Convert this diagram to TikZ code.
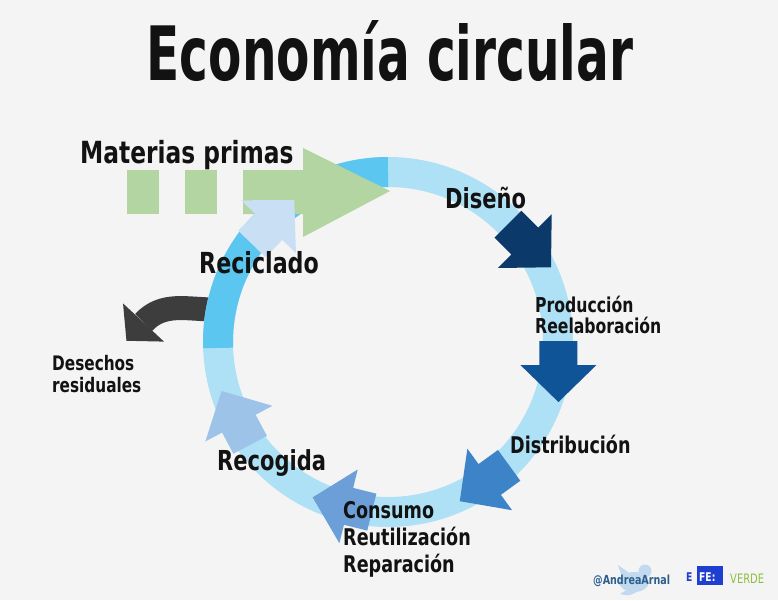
\documentclass[tikz,border=0pt]{standalone}
\usepackage{fontspec}
\newfontfamily\titlefont{DejaVu Sans Condensed}[FakeStretch=0.72]
\newfontfamily\labelfont{DejaVu Sans Condensed}[FakeStretch=0.85]
\definecolor{paper}{HTML}{F5F4F4}
\definecolor{ringlight}{HTML}{AEE1F6}
\definecolor{ringdark}{HTML}{5BC6F0}
\definecolor{rawgreen}{HTML}{B2D5A2}
\definecolor{disenoblue}{HTML}{0B3A6A}
\definecolor{produblue}{HTML}{0F5496}
\definecolor{distriblue}{HTML}{3D83C8}
\definecolor{consublue}{HTML}{6C9FD8}
\definecolor{recogblue}{HTML}{9EC3E8}
\definecolor{reciclblue}{HTML}{C9DFF3}
\definecolor{wastegray}{HTML}{3D3D3D}
\definecolor{efeblue}{HTML}{1E3FCF}
\definecolor{verdegreen}{HTML}{8CBF3F}
\definecolor{andreablue}{HTML}{2D5E8C}
\definecolor{birdblue}{HTML}{C2DAEF}

\begin{document}
\begin{tikzpicture}[x=1pt,y=1pt]
\tikzstyle{every node}+=[inner sep=0pt]
\tikzstyle{stagelabel}=[anchor=base west, text=black!93, font=\labelfont\bfseries]
\useasboundingbox (0,0) rectangle (778,-600);
\fill [paper] (0,0) rectangle (778,-600);
\draw [wastegray, line width=24] (215,-309.5) to[out=180,in=47] (143.5,-322.5);
\fill [wastegray, shift={(143.5,-322.5)}, rotate=-133] (0,-28) -- (25,0) -- (0,28) -- cycle;
\draw [ringlight, line width=30] (388,-342) circle (170);
\draw [ringdark, line width=30] ([shift={(90:170)}]388,-342) arc [start angle=90, end angle=182, radius=170];
\fill [rawgreen] (127,-170) rectangle (159,-214);
\fill [rawgreen] (185,-170) rectangle (217,-214);
\fill [rawgreen] (243,-170) -- (303,-170) -- (303,-148) -- (390,-191) -- (303,-237) -- (303,-214) -- (243,-214) -- cycle;
\foreach \ang/\rad/\dir/\col in {36.4/170/-45/disenoblue, 352.3/172/-90/produblue, 306.5/171/-144/distriblue, 256.5/169/166/consublue, 208.7/170/118/recogblue, 136/166/46/reciclblue}
{
\fill [\col, shift={(388,-342)}, shift={(\ang:\rad)}, rotate=\dir] (-24,-19) -- (0,-19) -- (0,-38) -- (37,0) -- (0,38) -- (0,19) -- (-24,19) -- cycle;
}
\node [anchor=base, text=black!93, font=\titlefont\bfseries\fontsize{75}{80}\selectfont] (title) at (390,-80) {Economía circular};
\node [stagelabel, font=\labelfont\bfseries\fontsize{30.5}{32}\selectfont] (materias) at (80,-163) {Materias primas};
\node [stagelabel, font=\labelfont\bfseries\fontsize{27.5}{30}\selectfont] (diseno) at (445,-208) {Diseño};
\node [stagelabel, align=left, font=\labelfont\bfseries\fontsize{20.5}{21}\selectfont] (produccion) at (535,-333) {Producción\\Reelaboración};
\node [stagelabel, font=\labelfont\bfseries\fontsize{23}{26}\selectfont] (distribucion) at (510,-453) {Distribución};
\node [stagelabel, align=left, font=\labelfont\bfseries\fontsize{23}{27}\selectfont] (consumo) at (343,-572) {Consumo\\Reutilización\\Reparación};
\node [stagelabel, font=\labelfont\bfseries\fontsize{27.5}{30}\selectfont] (recogida) at (217,-470) {Recogida};
\node [stagelabel, font=\labelfont\bfseries\fontsize{29}{32}\selectfont] (reciclado) at (199,-273) {Reciclado};
\node [stagelabel, align=left, font=\labelfont\bfseries\fontsize{20}{22}\selectfont] (desechos) at (52,-392) {Desechos\\residuales};
\fill [birdblue] (634,-582) ellipse [x radius=15, y radius=10];
\fill [birdblue] (645,-571) circle (6.5);
\fill [birdblue] (618,-565) .. controls (622,-578) .. (634,-580) -- (628,-572) -- cycle;
\fill [birdblue] (620,-594) .. controls (630,-596) .. (640,-590) -- (630,-588) -- cycle;
\node [anchor=base west, text=andreablue, font=\labelfont\bfseries\fontsize{12.5}{14}\selectfont] (andrea) at (593,-584) {@AndreaArnal};
\fill [efeblue] (697,-566) rectangle (723,-585);
\node [anchor=base west, text=efeblue, font=\labelfont\bfseries\fontsize{12}{14}\selectfont] (efeleft) at (686,-581) {E};
\node [anchor=base west, text=white, font=\labelfont\bfseries\fontsize{12}{14}\selectfont] (efebox) at (699,-581) {FE:};
\node [anchor=base west, text=verdegreen, font=\labelfont\fontsize{13}{15}\selectfont] (verde) at (730,-583) {VERDE};
\end{tikzpicture}
\end{document}
